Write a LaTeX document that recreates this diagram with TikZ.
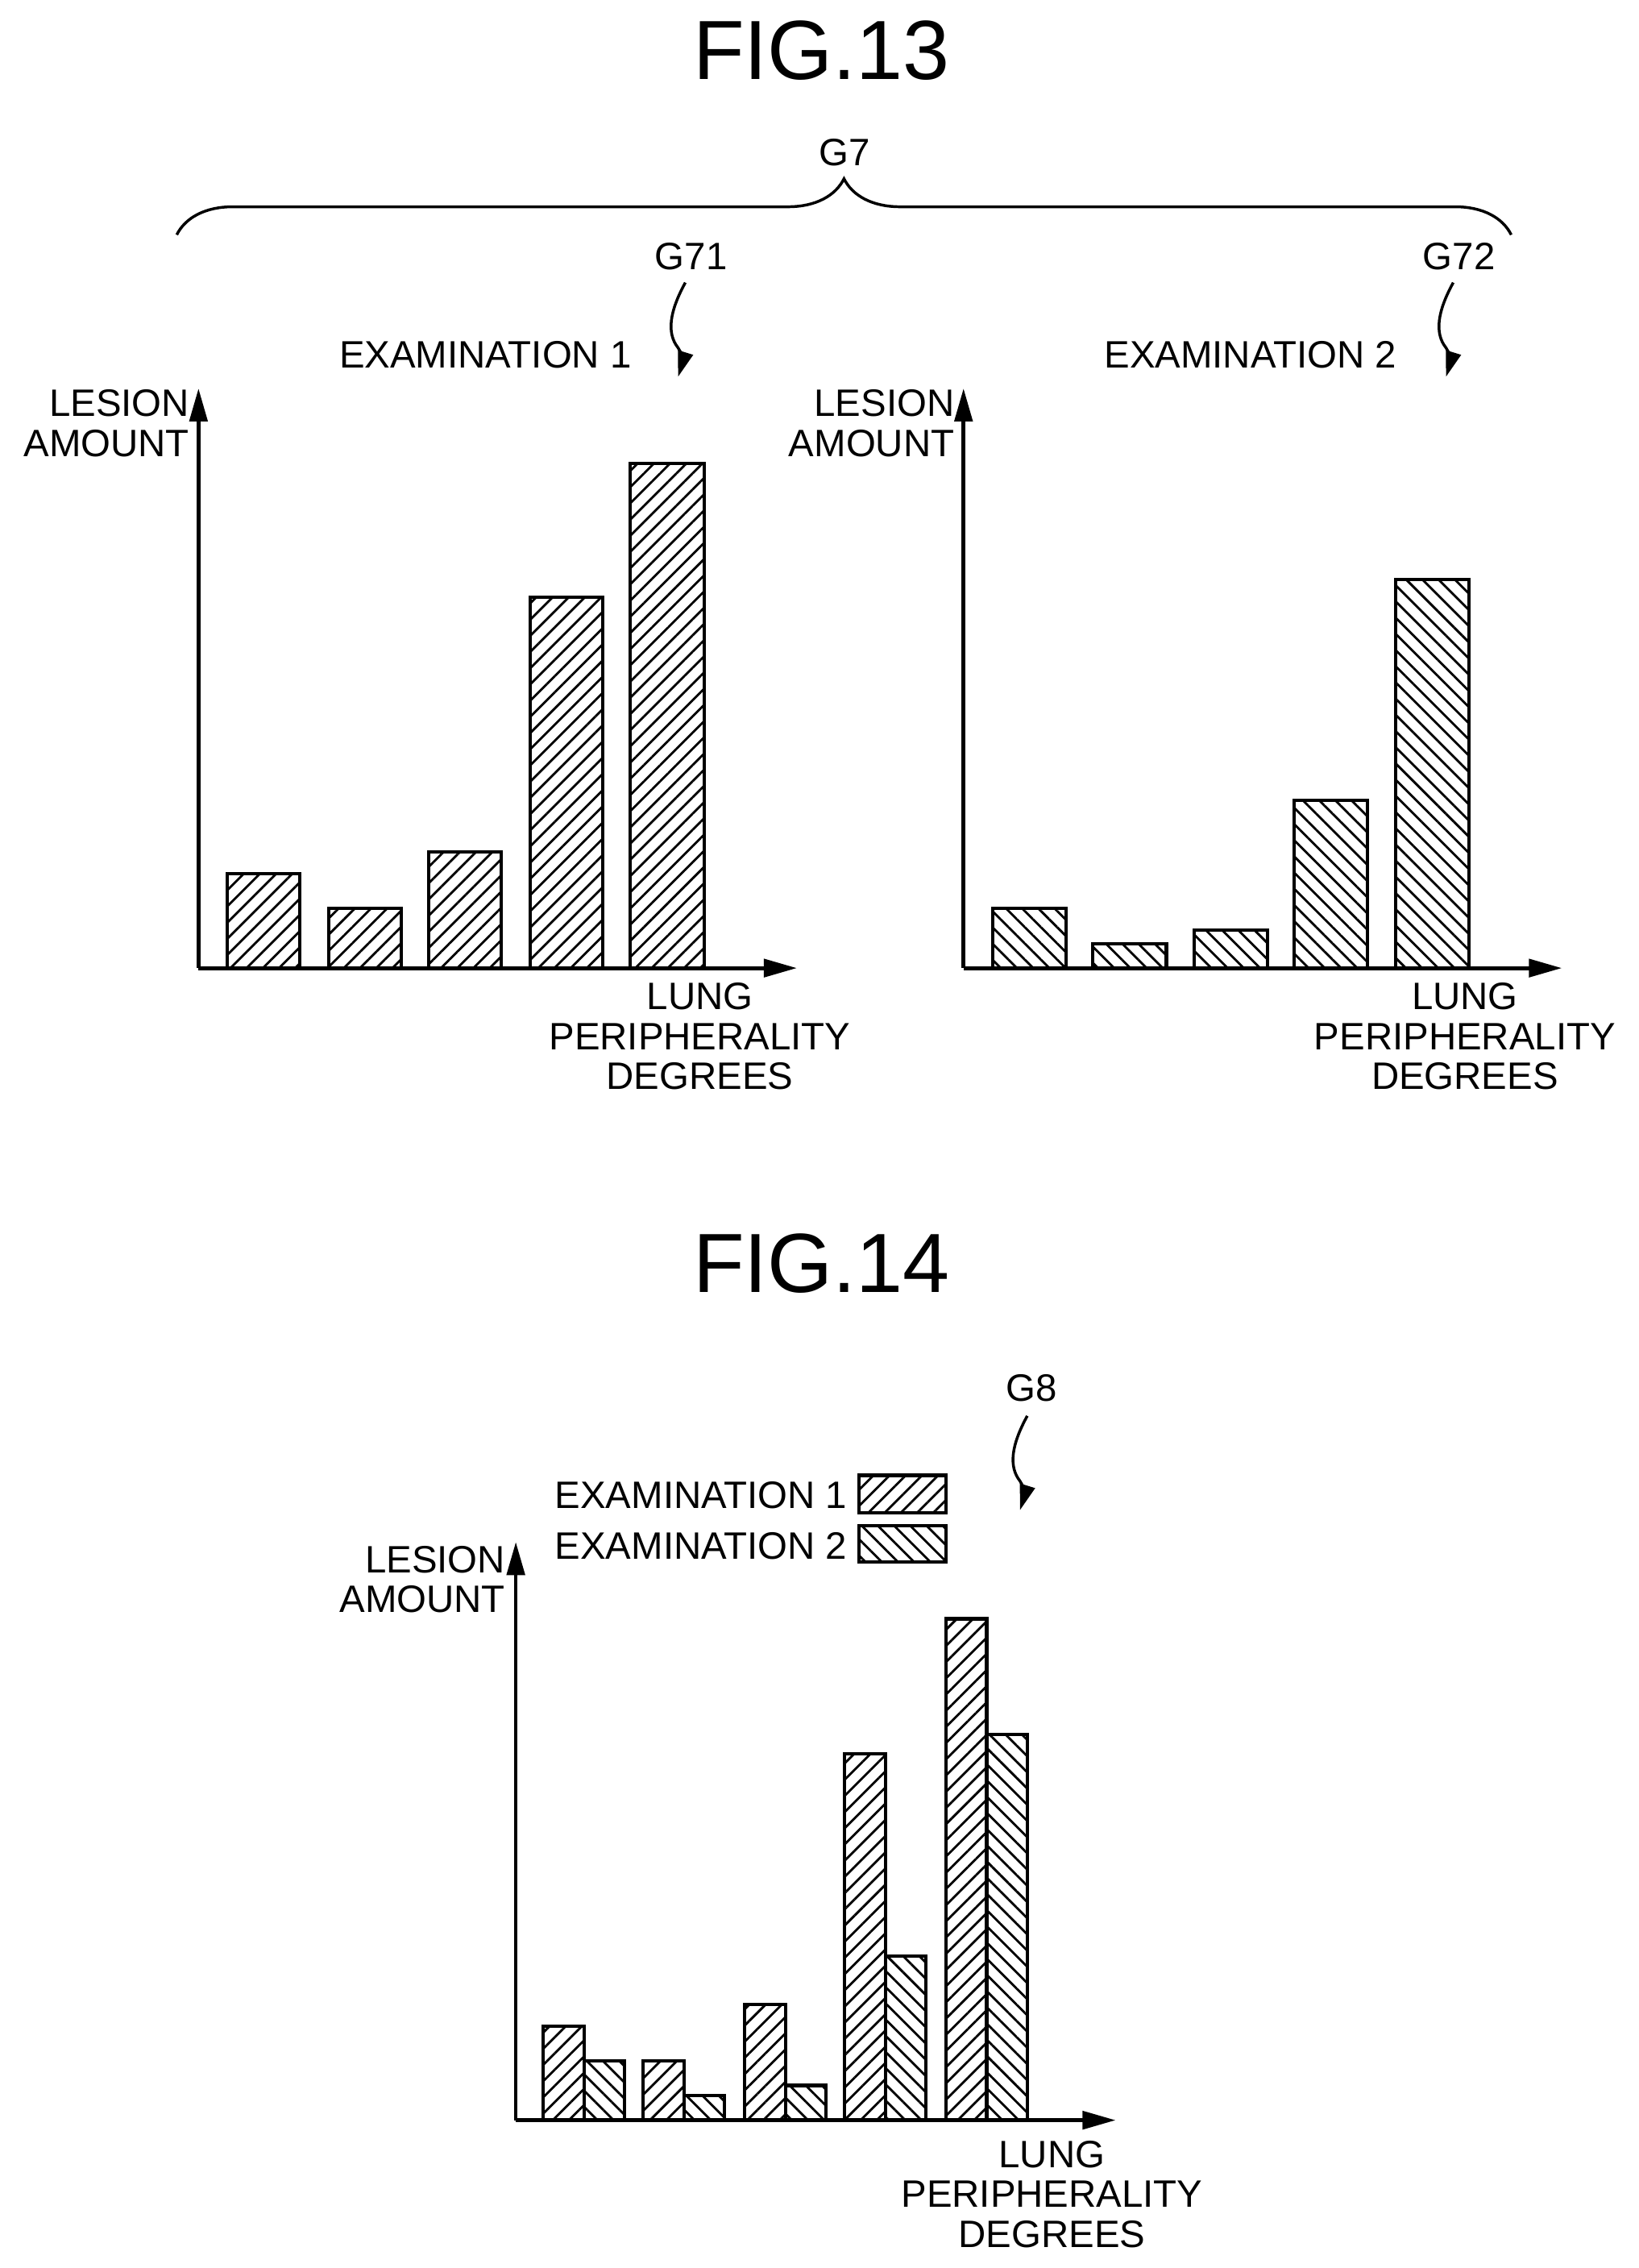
\documentclass[tikz,border=0pt]{standalone}
\usepackage{fontspec}
\setmainfont{Liberation Sans}
\usetikzlibrary{arrows.meta,patterns.meta,decorations.pathreplacing}
\begin{document}
\begin{tikzpicture}[x=0.02cm,y=-0.02cm]
        \tikzstyle{lbl}=[font=\fontsize{15}{15.6}\selectfont, inner sep=0pt]
        \tikzstyle{axlbl}=[lbl, align=center]
        \tikzstyle{ylbl}=[lbl, align=right, anchor=east]
        \tikzstyle{title}=[font=\fontsize{33}{35}\selectfont, inner sep=0pt]
        \tikzstyle{axis}=[line width=1.5pt, -{Triangle[length=13pt,width=7pt]}]
        \tikzstyle{squig}=[line width=1.1pt, -{Triangle[length=10pt,width=6pt]}]
        \tikzstyle{exone}=[draw, line width=1.3pt, pattern={Lines[angle=45,distance=4.5pt,line width=0.9pt]}]
        \tikzstyle{extwo}=[draw, line width=1.3pt, pattern={Lines[angle=-45,distance=4.5pt,line width=0.9pt]}]
        \useasboundingbox (0,0) rectangle (1131,1565);

        % FIG.13
        \node[title] (fig13) at (567,35) {FIG.13};
        \node[lbl] (g7) at (583,105) {G7};
        \draw[line width=1.1pt, decorate, decoration={brace, amplitude=22pt}] (122,162) -- (1043,162);

        % graph G71
        \coordinate (o1) at (137,668);
        \coordinate (y1) at (137,268);
        \coordinate (x1) at (550,668);
        \draw[axis] (o1) -- (y1);
        \draw[axis] (o1) -- (x1);
        \node[ylbl] (la1) at (131,292) {LESION\\AMOUNT};
        \node[axlbl, anchor=north] (lp1) at (483,678) {LUNG\\PERIPHERALITY\\DEGREES};
        \node[lbl] (ex1) at (335,245) {EXAMINATION 1};
        \node[lbl] (g71) at (477,177) {G71};
        \draw[squig] (473,195) .. controls (462,215) and (460,230) .. (468,240) .. controls (472,247) .. (468,260);
        \draw[exone] (157,668) rectangle (207,603);
        \draw[exone] (227,668) rectangle (277,627);
        \draw[exone] (296,668) rectangle (346,588);
        \draw[exone] (366,668) rectangle (416,412);
        \draw[exone] (435,668) rectangle (486,320);

        % graph G72
        \coordinate (o2) at (665,668);
        \coordinate (y2) at (665,268);
        \coordinate (x2) at (1078,668);
        \draw[axis] (o2) -- (y2);
        \draw[axis] (o2) -- (x2);
        \node[ylbl] (la2) at (659,292) {LESION\\AMOUNT};
        \node[axlbl, anchor=north] (lp2) at (1011,678) {LUNG\\PERIPHERALITY\\DEGREES};
        \node[lbl] (ex2) at (863,245) {EXAMINATION 2};
        \node[lbl] (g72) at (1007,177) {G72};
        \draw[squig] (1003,195) .. controls (992,215) and (990,230) .. (998,240) .. controls (1002,247) .. (998,260);
        \draw[extwo] (685,668) rectangle (736,627);
        \draw[extwo] (754,668) rectangle (805,651);
        \draw[extwo] (824,668) rectangle (875,642);
        \draw[extwo] (893,668) rectangle (944,552);
        \draw[extwo] (963,668) rectangle (1014,400);

        % FIG.14
        \node[title] (fig14) at (567,872) {FIG.14};
        \node[lbl] (g8) at (712,958) {G8};
        \draw[squig] (709,977) .. controls (698,997) and (696,1012) .. (704,1022) .. controls (708,1029) .. (704,1042);
        \node[lbl, anchor=east] (le1) at (585,1032) {EXAMINATION 1};
        \node[lbl, anchor=east] (le2) at (585,1067) {EXAMINATION 2};
        \draw[exone] (593,1018) rectangle (653,1044);
        \draw[extwo] (593,1053) rectangle (653,1078);

        % graph G8
        \coordinate (o3) at (356,1463);
        \coordinate (y3) at (356,1064);
        \coordinate (x3) at (770,1463);
        \draw[axis] (o3) -- (y3);
        \draw[axis] (o3) -- (x3);
        \node[ylbl] (la3) at (349,1090) {LESION\\AMOUNT};
        \node[axlbl, anchor=north] (lp3) at (726,1477) {LUNG\\PERIPHERALITY\\DEGREES};
        \foreach \xa/\ta/\tb in {375/1398/1422, 444/1422/1446, 514/1383/1439, 583/1210/1350, 653/1117/1197} {
            \draw[exone] (\xa,1463) rectangle ({\xa+28},\ta);
            \draw[extwo] ({\xa+28},1463) rectangle ({\xa+56},\tb);
        }
\end{tikzpicture}
\end{document}
